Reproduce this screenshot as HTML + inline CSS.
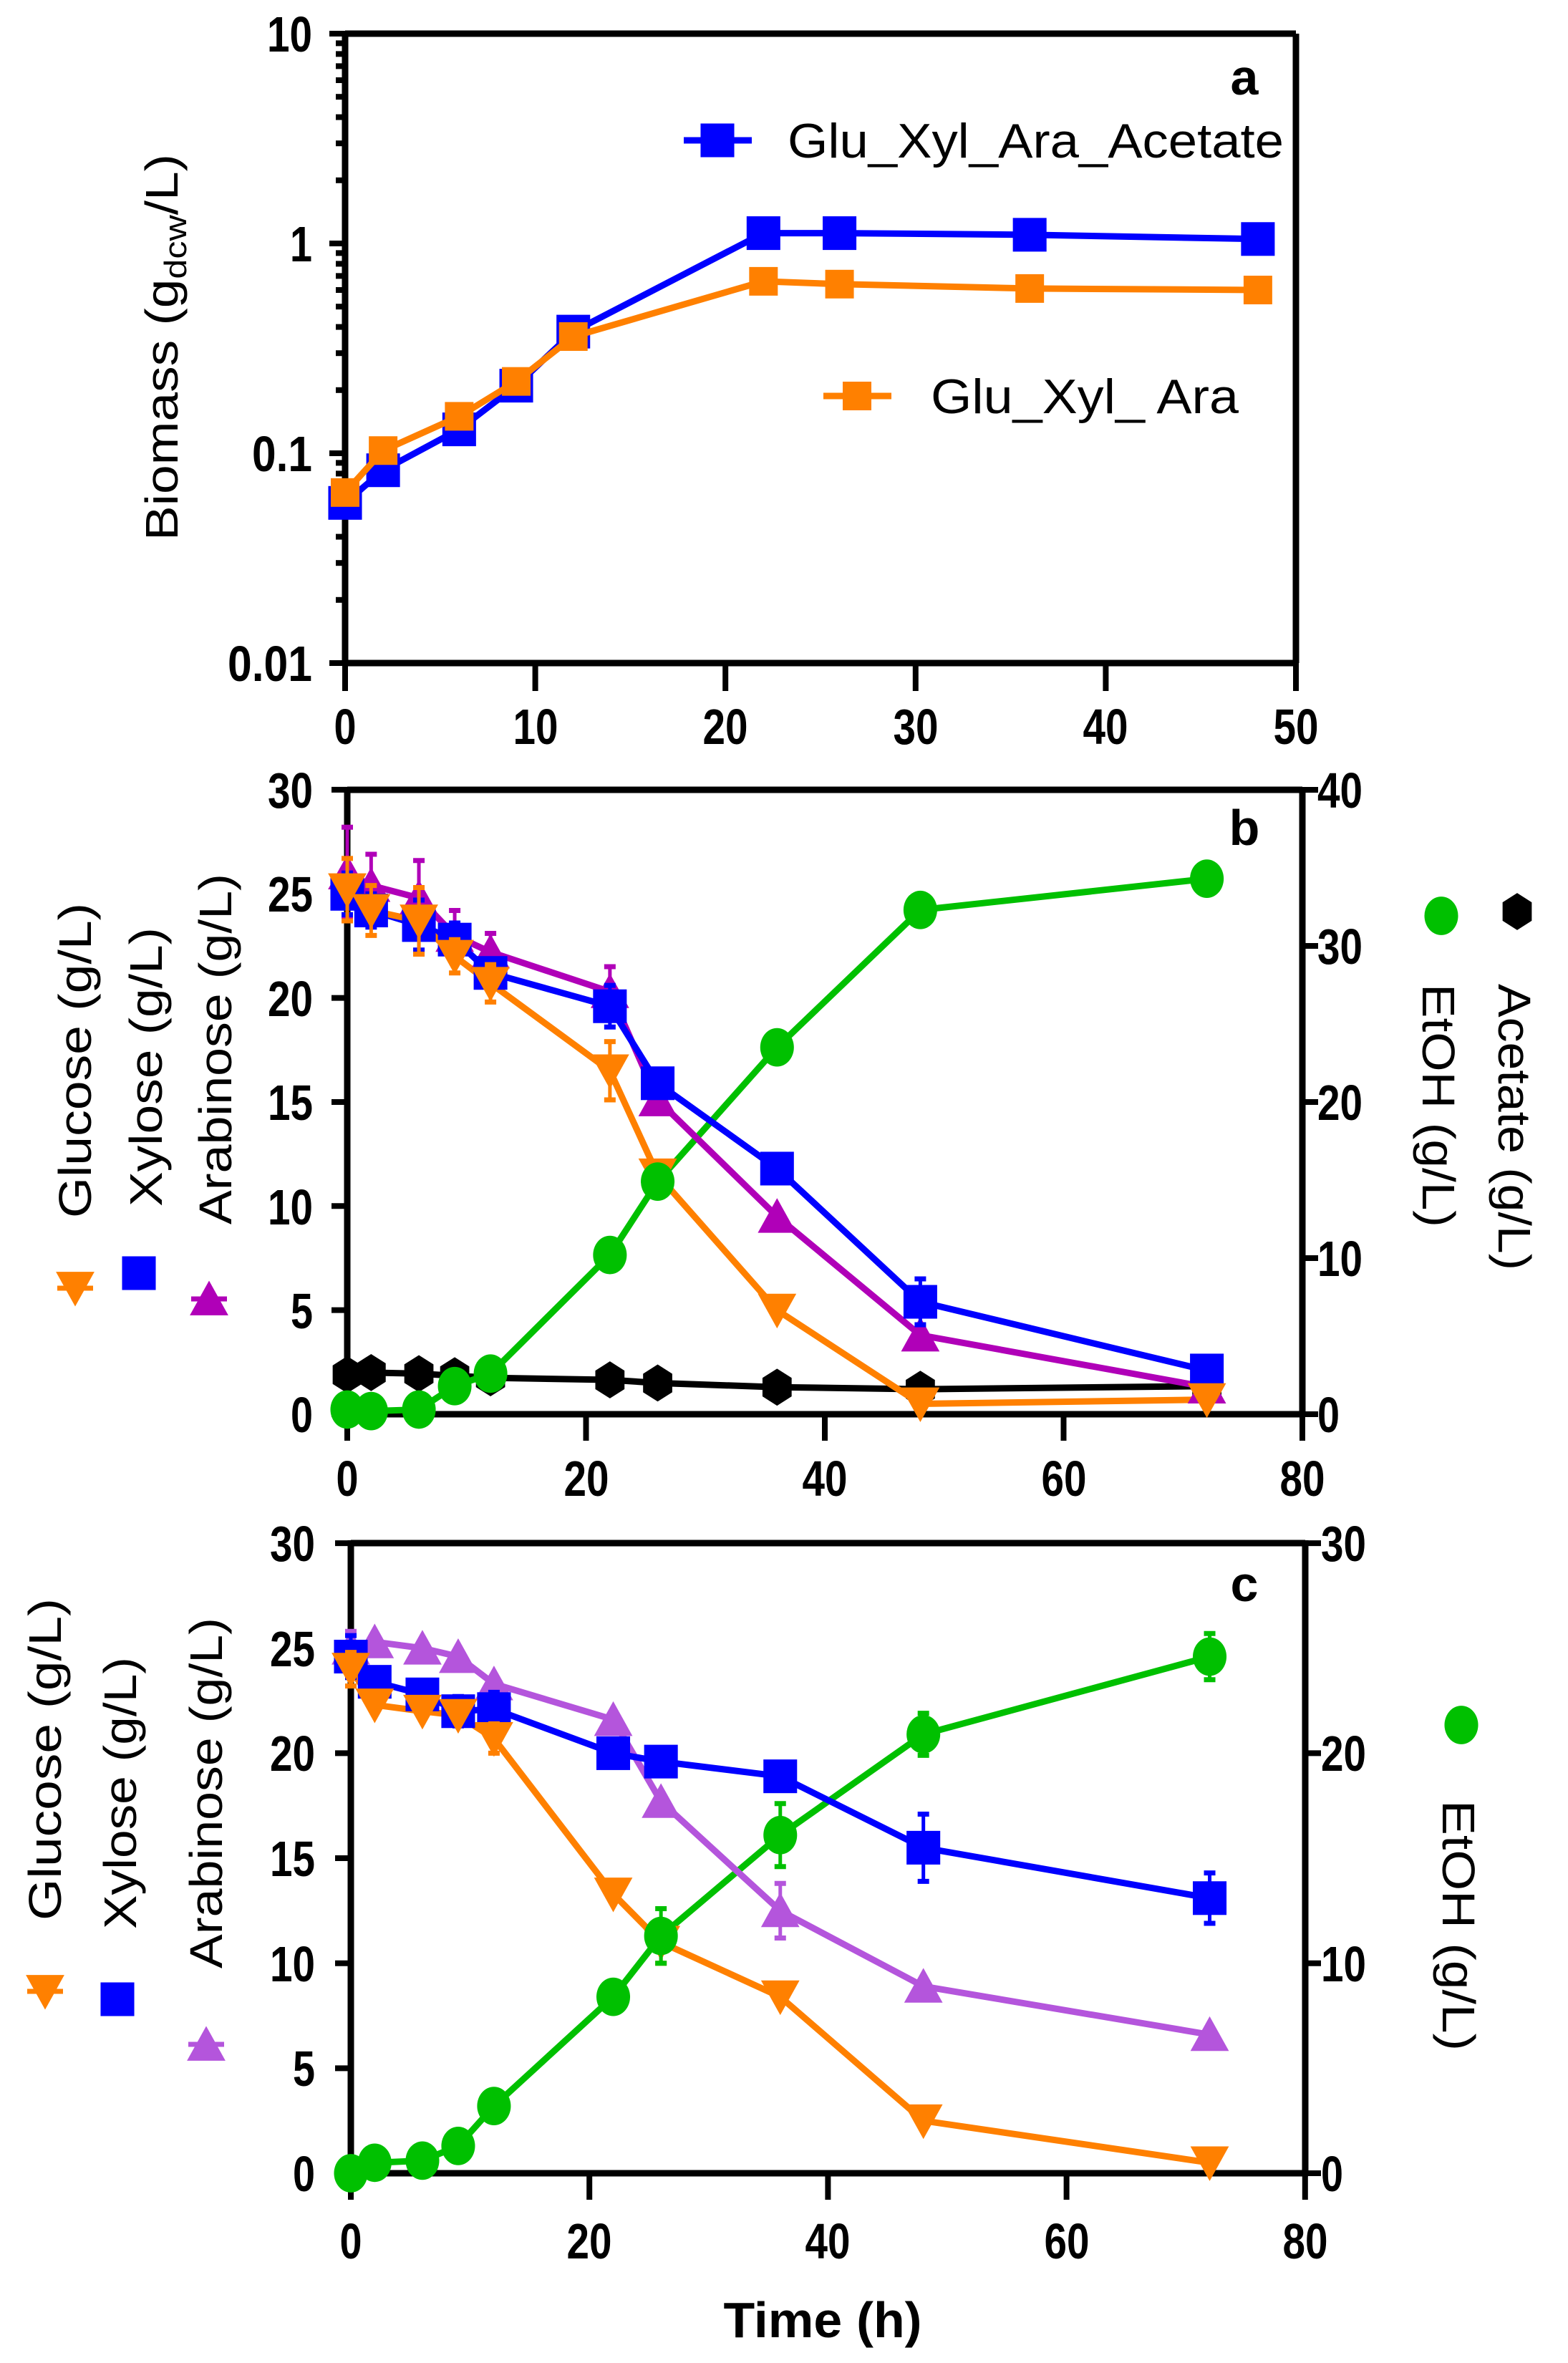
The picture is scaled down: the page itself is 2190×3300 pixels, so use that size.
<!DOCTYPE html>
<html><head><meta charset="utf-8"><style>
html,body{margin:0;padding:0;background:#fff;}
svg{display:block;}
text{font-family:"Liberation Sans",Arial,sans-serif;}
.t{font-weight:bold;font-size:70px;}
.ti{font-size:64px;}
</style></head><body>
<svg id="s" width="2190" height="3300" viewBox="0 0 2190 3300" xmlns="http://www.w3.org/2000/svg">
<rect width="2190" height="3300" fill="#fff"/>
<g id="shapes"></g>
<!-- Panel a text -->
<g class="t" text-anchor="end">
<text x="436" y="72" textLength="63" lengthAdjust="spacingAndGlyphs">10</text>
<text x="436" y="365" textLength="31" lengthAdjust="spacingAndGlyphs">1</text>
<text x="436" y="658" textLength="84" lengthAdjust="spacingAndGlyphs">0.1</text>
<text x="436" y="951" textLength="118" lengthAdjust="spacingAndGlyphs">0.01</text>
</g>
<g class="t" text-anchor="middle">
<text x="482" y="1039" textLength="31" lengthAdjust="spacingAndGlyphs">0</text>
<text x="748" y="1039" textLength="63" lengthAdjust="spacingAndGlyphs">10</text>
<text x="1013" y="1039" textLength="63" lengthAdjust="spacingAndGlyphs">20</text>
<text x="1279" y="1039" textLength="63" lengthAdjust="spacingAndGlyphs">30</text>
<text x="1544" y="1039" textLength="63" lengthAdjust="spacingAndGlyphs">40</text>
<text x="1810" y="1039" textLength="63" lengthAdjust="spacingAndGlyphs">50</text>
</g>
<text x="1738" y="132" class="t" text-anchor="middle" font-size="66">a</text>
<text x="1100" y="220" font-size="68" textLength="693" lengthAdjust="spacingAndGlyphs">Glu_Xyl_Ara_Acetate</text>
<text x="1300" y="577" font-size="68" textLength="430" lengthAdjust="spacingAndGlyphs">Glu_Xyl_ Ara</text>
<text transform="translate(248,485) rotate(-90)" text-anchor="middle" font-size="64" textLength="540" lengthAdjust="spacingAndGlyphs">Biomass (g<tspan font-size="44" dy="12">dcw</tspan><tspan dy="-12">/L)</tspan></text>

<!-- Panel b text -->
<g class="t" text-anchor="end">
<text x="437" y="2000" textLength="31" lengthAdjust="spacingAndGlyphs">0</text>
<text x="437" y="1855" textLength="31" lengthAdjust="spacingAndGlyphs">5</text>
<text x="437" y="1710" textLength="63" lengthAdjust="spacingAndGlyphs">10</text>
<text x="437" y="1564" textLength="63" lengthAdjust="spacingAndGlyphs">15</text>
<text x="437" y="1419" textLength="63" lengthAdjust="spacingAndGlyphs">20</text>
<text x="437" y="1273" textLength="63" lengthAdjust="spacingAndGlyphs">25</text>
<text x="437" y="1128" textLength="63" lengthAdjust="spacingAndGlyphs">30</text>
</g>
<g class="t" text-anchor="start">
<text x="1840" y="2000" textLength="31" lengthAdjust="spacingAndGlyphs">0</text>
<text x="1840" y="1782" textLength="63" lengthAdjust="spacingAndGlyphs">10</text>
<text x="1840" y="1564" textLength="63" lengthAdjust="spacingAndGlyphs">20</text>
<text x="1840" y="1346" textLength="63" lengthAdjust="spacingAndGlyphs">30</text>
<text x="1840" y="1128" textLength="63" lengthAdjust="spacingAndGlyphs">40</text>
</g>
<g class="t" text-anchor="middle">
<text x="485" y="2089" textLength="31" lengthAdjust="spacingAndGlyphs">0</text>
<text x="819" y="2089" textLength="63" lengthAdjust="spacingAndGlyphs">20</text>
<text x="1152" y="2089" textLength="63" lengthAdjust="spacingAndGlyphs">40</text>
<text x="1486" y="2089" textLength="63" lengthAdjust="spacingAndGlyphs">60</text>
<text x="1819" y="2089" textLength="63" lengthAdjust="spacingAndGlyphs">80</text>
</g>
<text x="1738" y="1180" class="t" text-anchor="middle" font-size="66">b</text>
<g class="ti" text-anchor="middle">
<text transform="translate(127,1481) rotate(-90)" textLength="440" lengthAdjust="spacingAndGlyphs">Glucose (g/L)</text>
<text transform="translate(226,1490) rotate(-90)" textLength="390" lengthAdjust="spacingAndGlyphs">Xylose (g/L)</text>
<text transform="translate(323,1465) rotate(-90)" textLength="490" lengthAdjust="spacingAndGlyphs">Arabinose (g/L)</text>
<text transform="translate(2093,1574) rotate(90)" textLength="400" lengthAdjust="spacingAndGlyphs">Acetate (g/L)</text>
<text transform="translate(1987,1544) rotate(90)" textLength="340" lengthAdjust="spacingAndGlyphs">EtOH (g/L)</text>
</g>

<!-- Panel c text -->
<g class="t" text-anchor="end">
<text x="440" y="3060" textLength="31" lengthAdjust="spacingAndGlyphs">0</text>
<text x="440" y="2913" textLength="31" lengthAdjust="spacingAndGlyphs">5</text>
<text x="440" y="2767" textLength="63" lengthAdjust="spacingAndGlyphs">10</text>
<text x="440" y="2620" textLength="63" lengthAdjust="spacingAndGlyphs">15</text>
<text x="440" y="2473" textLength="63" lengthAdjust="spacingAndGlyphs">20</text>
<text x="440" y="2327" textLength="63" lengthAdjust="spacingAndGlyphs">25</text>
<text x="440" y="2180" textLength="63" lengthAdjust="spacingAndGlyphs">30</text>
</g>
<g class="t" text-anchor="start">
<text x="1845" y="3060" textLength="31" lengthAdjust="spacingAndGlyphs">0</text>
<text x="1845" y="2767" textLength="63" lengthAdjust="spacingAndGlyphs">10</text>
<text x="1845" y="2473" textLength="63" lengthAdjust="spacingAndGlyphs">20</text>
<text x="1845" y="2180" textLength="63" lengthAdjust="spacingAndGlyphs">30</text>
</g>
<g class="t" text-anchor="middle">
<text x="490" y="3154" textLength="31" lengthAdjust="spacingAndGlyphs">0</text>
<text x="823" y="3154" textLength="63" lengthAdjust="spacingAndGlyphs">20</text>
<text x="1156" y="3154" textLength="63" lengthAdjust="spacingAndGlyphs">40</text>
<text x="1490" y="3154" textLength="63" lengthAdjust="spacingAndGlyphs">60</text>
<text x="1823" y="3154" textLength="63" lengthAdjust="spacingAndGlyphs">80</text>
</g>
<text x="1738" y="2236" class="t" text-anchor="middle" font-size="66">c</text>
<text x="1149" y="3264" class="t" text-anchor="middle" font-size="76" textLength="277" lengthAdjust="spacingAndGlyphs">Time (h)</text>
<g class="ti" text-anchor="middle">
<text transform="translate(85,2457) rotate(-90)" textLength="450" lengthAdjust="spacingAndGlyphs">Glucose (g/L)</text>
<text transform="translate(190,2504) rotate(-90)" textLength="380" lengthAdjust="spacingAndGlyphs">Xylose (g/L)</text>
<text transform="translate(310,2504) rotate(-90)" textLength="490" lengthAdjust="spacingAndGlyphs">Arabinose (g/L)</text>
<text transform="translate(2015,2689) rotate(90)" textLength="350" lengthAdjust="spacingAndGlyphs">EtOH (g/L)</text>
</g>
</svg>
<script>
var g=document.getElementById('shapes');var NS='http://www.w3.org/2000/svg';
function el(t,a){var e=document.createElementNS(NS,t);for(var k in a)e.setAttribute(k,a[k]);g.appendChild(e);return e;}
function line(x1,y1,x2,y2,c,w){el('line',{x1:x1,y1:y1,x2:x2,y2:y2,stroke:c,'stroke-width':w});}
function poly(pts,c,w){el('polyline',{points:pts.map(function(p){return p[0]+','+p[1]}).join(' '),fill:'none',stroke:c,'stroke-width':w,'stroke-linejoin':'round'});}
function mk(type,x,y,c,s){s=(s||1)*1.12;
 if(type=='sq'){var h=21*s;el('rect',{x:x-h,y:y-h,width:2*h,height:2*h,fill:c});}
 else if(type=='dn'){var h=24*s;el('polygon',{points:(x-h)+','+(y-h*0.85)+' '+(x+h)+','+(y-h*0.85)+' '+x+','+(y+h*0.95),fill:c});}
 else if(type=='up'){var h=24*s;el('polygon',{points:(x-h)+','+(y+h*0.85)+' '+(x+h)+','+(y+h*0.85)+' '+x+','+(y-h*0.95),fill:c});}
 else if(type=='ci'){el('ellipse',{cx:x,cy:y,rx:21*s,ry:24*s,fill:c});}
 else if(type=='hx'){var r=21*s,p=[];for(var i=0;i<6;i++){var a=Math.PI/3*i+Math.PI/6;p.push((x+r*Math.cos(a))+','+(y+r*Math.sin(a)*1.1));}el('polygon',{points:p.join(' '),fill:c});}
}
function err(x,y1,y2,c){line(x,y1,x,y2,c,5);line(x-8,y1,x+8,y1,c,7);line(x-8,y2,x+8,y2,c,7);}
var T=[0,2,6,9,12,22,26,36,48,72];var LW=9;
// Panel a
(function(){
 var X=function(h){return 482+h*26.56},Y=function(v){return 340-293*Math.log10(v)};
 var ta=[0,2,6,9,12,22,26,36,48];
 var B=[0.058,0.083,0.13,0.21,0.38,1.12,1.12,1.1,1.05],O=[0.065,0.103,0.15,0.22,0.36,0.66,0.64,0.61,0.6];
 line(482,47,1810,47,'#000',9);line(1810,47,1810,926,'#000',9);
 line(482,43,482,930,'#000',9);line(478,926,1814,926,'#000',9);
 for(var d=-2;d<1;d++){for(var m=1;m<=10;m++){var y=Y(m*Math.pow(10,d));var L=(m==1||m==10)?22:13;line(482-L,y,482,y,'#000',8);}}
 for(var i=0;i<=5;i++){line(X(i*10),926,X(i*10),965,'#000',8);}
 poly(ta.map(function(t,i){return [X(t),Y(B[i])]}),'#0000ff',LW);
 ta.forEach(function(t,i){mk('sq',X(t),Y(B[i]),'#0000ff');});
 poly(ta.map(function(t,i){return [X(t),Y(O[i])]}),'#ff8000',LW);
 ta.forEach(function(t,i){mk('sq',X(t),Y(O[i]),'#ff8000',0.85);});
 line(955,196,1050,196,'#0000ff',LW);mk('sq',1002,196,'#0000ff');
 line(1150,553,1245,553,'#ff8000',LW);mk('sq',1197,553,'#ff8000',0.85);
})();
// Panel b
(function(){
 var X=function(h){return 485+h*16.675},Y=function(v){return 1975-v*29.07};
 line(485,1103,1819,1103,'#000',9);line(485,1099,485,1979,'#000',9);line(1819,1099,1819,1979,'#000',9);line(481,1975,1823,1975,'#000',9);
 for(var v=0;v<=30;v+=5)line(463,Y(v),485,Y(v),'#000',8);
 for(var v=0;v<=40;v+=10){var y=1975-v*21.8;line(1819,y,1841,y,'#000',8);}
 for(var h=0;h<=80;h+=20)line(X(h),1975,X(h),2012,'#000',8);
 var G=[25.2,24.2,23.7,22.0,20.7,16.5,11.5,5.0,0.5,0.7],Xy=[25,24.2,23.5,22.8,21.2,19.6,15.9,11.8,5.4,2.1],
 A=[26,25.4,24.8,23.0,22.2,20.3,15.1,9.5,3.8,1.3],E=[0.3,0.2,0.3,1.8,2.6,10.2,14.9,23.5,32.3,34.3],Ac=[1.9,2.0,1.95,1.85,1.75,1.65,1.5,1.3,1.2,1.35];
 var eA=[2.2,1.5,1.8,1.2,0.9,1.2,0,0,0,0],eG=[1.5,1.2,1.6,0.8,0.9,1.4,0,0,0,0],eX=[1,0.8,1.2,0.8,0.6,1,0,0,1.1,0];
 poly(T.map(function(t,i){return [X(t),Y(Ac[i])]}),'#000',LW);T.forEach(function(t,i){mk('hx',X(t),Y(Ac[i]),'#000');});
 poly(T.map(function(t,i){return [X(t),Y(E[i]*0.75)]}),'#00c000',LW);
 poly(T.map(function(t,i){return [X(t),Y(A[i])]}),'#b000b8',LW);
 poly(T.map(function(t,i){return [X(t),Y(Xy[i])]}),'#0000ff',LW);
 poly(T.map(function(t,i){return [X(t),Y(G[i])]}),'#ff8000',LW);
 T.forEach(function(t,i){if(eA[i])err(X(t),Y(A[i]-eA[i]),Y(A[i]+eA[i]),'#b000b8');});
 T.forEach(function(t,i){mk('up',X(t),Y(A[i]),'#b000b8');});
 T.forEach(function(t,i){if(eX[i])err(X(t),Y(Xy[i]-eX[i]),Y(Xy[i]+eX[i]),'#0000ff');mk('sq',X(t),Y(Xy[i]),'#0000ff');});
 T.forEach(function(t,i){if(eG[i])err(X(t),Y(G[i]-eG[i]),Y(G[i]+eG[i]),'#ff8000');mk('dn',X(t),Y(G[i]),'#ff8000');});
 T.forEach(function(t,i){mk('ci',X(t),Y(E[i]*0.75),'#00c000');});
 mk('dn',105,1799,'#ff8000');line(80,1799,130,1799,'#ff8000',7);
 mk('sq',194,1778,'#0000ff');mk('up',292,1814,'#b000b8');line(267,1814,317,1814,'#b000b8',7);
 mk('hx',2119,1273,'#000');mk('ci',2013,1279,'#00c000');
})();
// Panel c
(function(){
 var X=function(h){return 490+h*16.66},Y=function(v){return 3035-v*29.33};
 line(490,2155,1823,2155,'#000',9);line(490,2151,490,3039,'#000',9);line(1823,2151,1823,3039,'#000',9);line(486,3035,1827,3035,'#000',9);
 for(var v=0;v<=30;v+=5)line(468,Y(v),490,Y(v),'#000',8);
 for(var v=0;v<=30;v+=10)line(1823,Y(v),1845,Y(v),'#000',8);
 for(var h=0;h<=80;h+=20)line(X(h),3035,X(h),3072,'#000',8);
 var G=[24.0,22.3,22.0,21.8,20.7,13.3,11.0,8.4,2.5,0.5],Xy=[24.6,23.4,22.8,22.0,22.1,20.0,19.6,18.9,15.5,13.1],
 A=[25,25.3,25.0,24.6,23.3,21.6,17.7,12.5,8.9,6.6],E=[0,0.5,0.6,1.3,3.2,8.4,11.3,16.1,20.9,24.6];
 var eX=[1,0,0,0.7,0.8,0,0,0,1.6,1.2],eA=[0.8,0,0,0,0,0,0,1.3,0,0],eG=[0.8,0,0,0,0.7,0,1,0,0,0],eE=[0,0,0,0,0,0,1.3,1.5,1,1.1];
 poly(T.map(function(t,i){return [X(t),Y(E[i])]}),'#00c000',LW);
 poly(T.map(function(t,i){return [X(t),Y(A[i])]}),'#b455dc',LW);
 poly(T.map(function(t,i){return [X(t),Y(Xy[i])]}),'#0000ff',LW);
 poly(T.map(function(t,i){return [X(t),Y(G[i])]}),'#ff8000',LW);
 T.forEach(function(t,i){if(eA[i])err(X(t),Y(A[i]-eA[i]),Y(A[i]+eA[i]),'#b455dc');mk('up',X(t),Y(A[i]),'#b455dc');});
 T.forEach(function(t,i){if(eX[i])err(X(t),Y(Xy[i]-eX[i]),Y(Xy[i]+eX[i]),'#0000ff');mk('sq',X(t),Y(Xy[i]),'#0000ff');});
 T.forEach(function(t,i){if(eG[i])err(X(t),Y(G[i]-eG[i]),Y(G[i]+eG[i]),'#ff8000');mk('dn',X(t),Y(G[i]),'#ff8000');});
 T.forEach(function(t,i){if(eE[i])err(X(t),Y(E[i]-eE[i]),Y(E[i]+eE[i]),'#00c000');mk('ci',X(t),Y(E[i]),'#00c000');});
 mk('dn',63,2781,'#ff8000');line(38,2781,88,2781,'#ff8000',7);
 mk('sq',164,2792,'#0000ff');mk('up',288,2855,'#b455dc');line(263,2855,313,2855,'#b455dc',7);
 mk('ci',2041,2409,'#00c000');
})();
</script>
</body></html>
